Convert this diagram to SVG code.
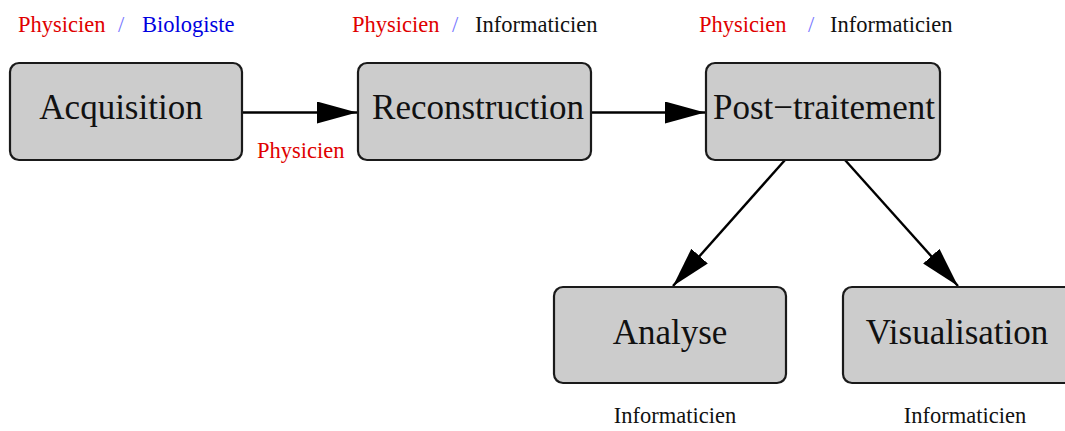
<svg xmlns="http://www.w3.org/2000/svg" width="1065" height="431" viewBox="0 0 1065 431">
<defs>
<style>
.box{fill:#cccccc;stroke:#1a1a1a;stroke-width:2.2}
.nt{font-family:"Liberation Serif","Times New Roman",serif;font-size:35px;fill:#111;text-anchor:middle}
.lb{font-family:"Liberation Serif","Times New Roman",serif;font-size:22.5px}
.red{fill:#e00000}
.blue{fill:#0000e0}
.sl{fill:#7777ff}
.blk{fill:#111}
.edge{stroke:#000;stroke-width:2.4;fill:none;marker-end:url(#ah)}
</style>
<marker id="ah" markerUnits="userSpaceOnUse" markerWidth="42" markerHeight="24" refX="40" refY="11" orient="auto" viewBox="0 0 42 24">
<path d="M0,0 L40,11 L0,22 z" fill="#000"/>
</marker>
</defs>
<rect width="1065" height="431" fill="#fff"/>
<g id="connectors">
<line class="edge" x1="243" y1="112.5" x2="357" y2="112.5"/>
<line class="edge" x1="591" y1="112.5" x2="705" y2="112.5"/>
<line class="edge" x1="785" y1="160" x2="673" y2="286"/>
<line class="edge" x1="845" y1="160" x2="958" y2="286"/>
<text class="lb red" x="257" y="158">Physicien</text>
</g>
<g id="acquisition">
<rect class="box" x="10" y="63" width="232" height="97" rx="9"/>
<text class="nt" x="121" y="119">Acquisition</text>
<text class="lb red" x="18" y="32">Physicien</text>
<text class="lb sl" x="118" y="32">/</text>
<text class="lb blue" x="142" y="32">Biologiste</text>
</g>
<g id="reconstruction">
<rect class="box" x="358" y="63" width="233" height="97" rx="9"/>
<text class="nt" x="478" y="119">Reconstruction</text>
<text class="lb red" x="352" y="32">Physicien</text>
<text class="lb sl" x="452" y="32">/</text>
<text class="lb blk" x="475" y="32">Informaticien</text>
</g>
<g id="post-traitement">
<rect class="box" x="706" y="63" width="234" height="97" rx="9"/>
<text class="nt" x="824" y="119">Post−traitement</text>
<text class="lb red" x="699" y="32">Physicien</text>
<text class="lb sl" x="808" y="32">/</text>
<text class="lb blk" x="830" y="32">Informaticien</text>
</g>
<g id="analyse">
<rect class="box" x="554" y="287" width="232" height="96" rx="9"/>
<text class="nt" x="670" y="344">Analyse</text>
<text class="lb blk" x="675" y="423" text-anchor="middle">Informaticien</text>
</g>
<g id="visualisation">
<rect class="box" x="843" y="287" width="232" height="96" rx="9"/>
<text class="nt" x="957" y="344">Visualisation</text>
<text class="lb blk" x="965" y="423" text-anchor="middle">Informaticien</text>
</g>
</svg>
